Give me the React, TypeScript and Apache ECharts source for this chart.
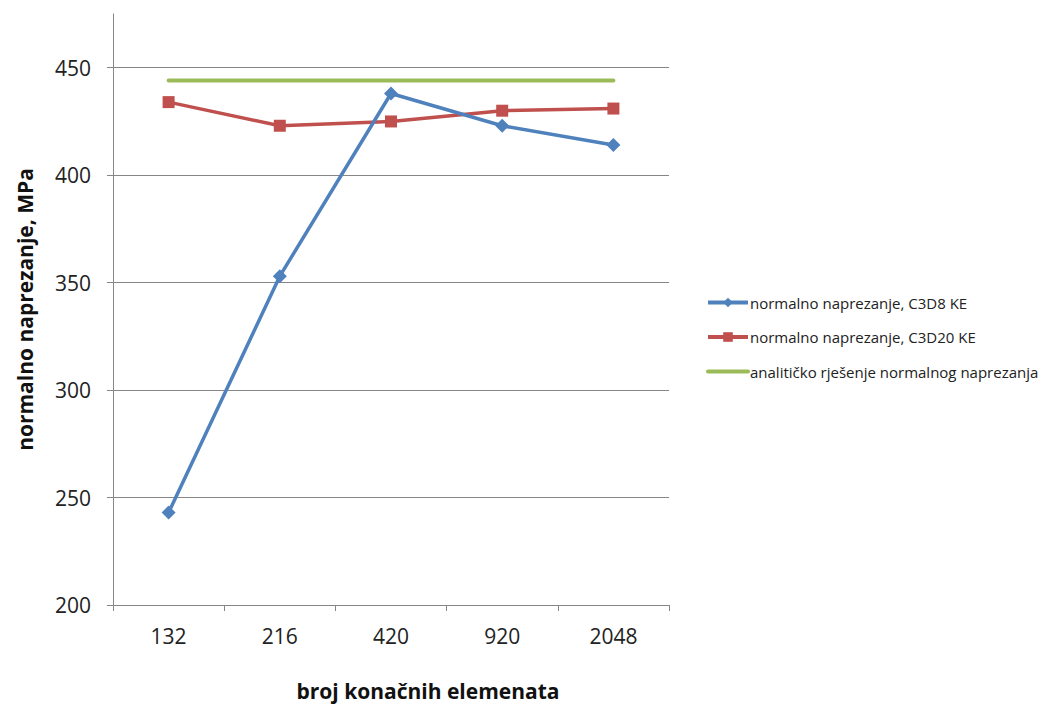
import React, { useEffect, useRef } from "react";
import * as echarts from "echarts";

const categories = ["132", "216", "420", "920", "2048"];
const c3d8 = [243, 353, 438, 423, 414];
const c3d20 = [434, 423, 425, 430, 431];
const analytic = [444, 444, 444, 444, 444];
const yTicks = [200, 250, 300, 350, 400, 450];
const seriesNames = [
  "normalno naprezanje, C3D8 KE",
  "normalno naprezanje, C3D20 KE",
  "analitičko rješenje normalnog naprezanja",
];

const FONT = "'Open Sans', Lato, sans-serif";

export default function App() {
  const ref = useRef<HTMLDivElement>(null);
  useEffect(() => {
    document.body.style.margin = "0";
    const chart = echarts.init(ref.current!, null, { renderer: "svg" });
    chart.setOption({
      animation: false,
      backgroundColor: "#ffffff",
      textStyle: { fontFamily: FONT },
      grid: { left: 113, right: 390, top: 14, bottom: 101, containLabel: false },
      legend: {
        orient: "vertical",
        left: 701,
        top: 290,
        itemWidth: 40,
        itemHeight: 12,
        itemGap: 19.5,
        lineStyle: { width: 4 },
        textStyle: { fontFamily: FONT, fontSize: 15, color: "#222", padding: [0, 0, 0, -3] },
        data: [
          { name: seriesNames[0] },
          { name: seriesNames[1] },
          { name: seriesNames[2], itemStyle: { opacity: 0 } },
        ],
      },
      xAxis: {
        type: "category",
        data: categories,
        boundaryGap: true,
        name: "broj konačnih elemenata",
        nameLocation: "middle",
        nameGap: 75,
        nameTextStyle: {
          fontFamily: FONT,
          fontSize: 21,
          fontWeight: "bold",
          color: "#111",
          padding: [0, 0, 0, 74],
        },
        axisLine: { lineStyle: { color: "#868686", width: 1 } },
        axisTick: { show: true, inside: false, length: 6, lineStyle: { color: "#868686" } },
        axisLabel: { fontFamily: FONT, fontSize: 21, color: "#222", margin: 20 },
        splitLine: { show: false },
      },
      yAxis: {
        type: "value",
        min: 200,
        max: 475,
        interval: 50,
        name: "normalno naprezanje, MPa",
        nameLocation: "middle",
        nameGap: 78,
        nameTextStyle: { fontFamily: FONT, fontSize: 21, fontWeight: "bold", color: "#111" },
        axisLine: { show: true, lineStyle: { color: "#868686", width: 1 } },
        axisTick: { show: true, length: 6, lineStyle: { color: "#868686" }, customValues: yTicks },
        axisLabel: { fontFamily: FONT, fontSize: 21, color: "#222", margin: 22, customValues: yTicks },
        splitLine: { show: true, lineStyle: { color: "#868686", width: 1 } },
      },
      series: [
        {
          name: seriesNames[0],
          type: "line",
          data: c3d8,
          symbol: "diamond",
          symbolSize: 14,
          lineStyle: { color: "#4F81BD", width: 3.5 },
          itemStyle: { color: "#4F81BD" },
          z: 3,
        },
        {
          name: seriesNames[1],
          type: "line",
          data: c3d20,
          symbol: "rect",
          symbolSize: 12,
          lineStyle: { color: "#C0504D", width: 3.5 },
          itemStyle: { color: "#C0504D" },
          z: 2,
        },
        {
          name: seriesNames[2],
          type: "line",
          data: analytic,
          symbol: "none",
          showSymbol: false,
          lineStyle: { color: "#9BBB59", width: 4, cap: "round" },
          itemStyle: { color: "#9BBB59" },
          z: 1,
        },
      ],
    });
    return () => chart.dispose();
  }, []);
  return <div ref={ref} style={{ width: 1059, height: 706, position: "fixed", left: 0, top: 0 }} />;
}
